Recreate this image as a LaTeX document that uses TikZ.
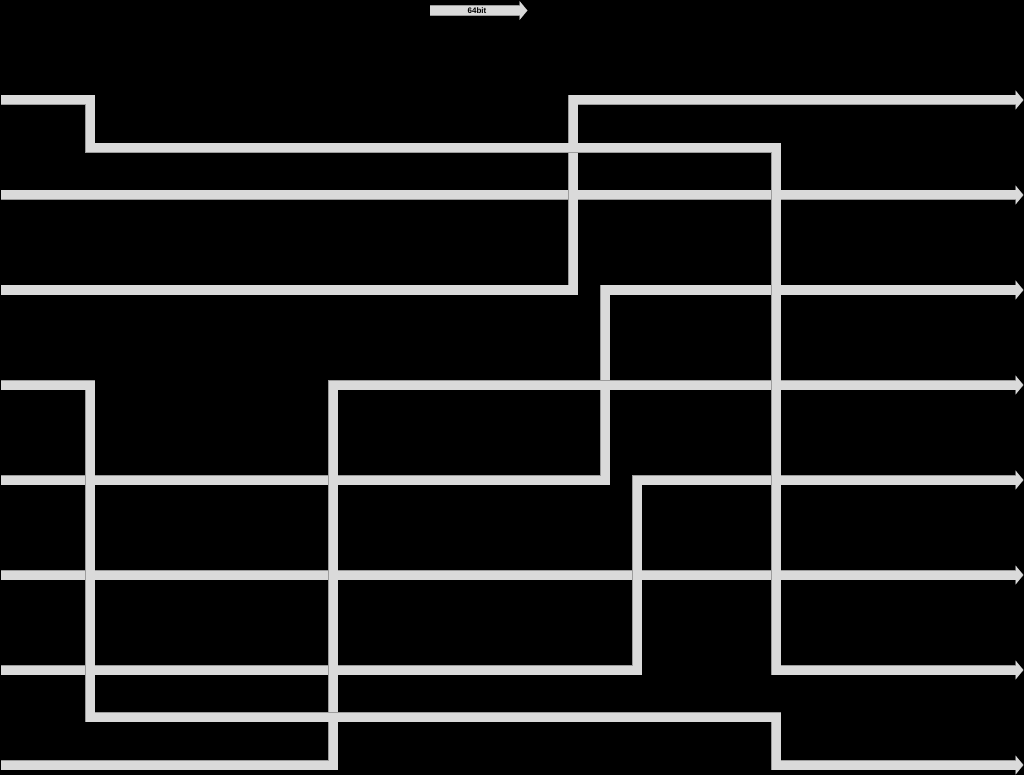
\documentclass[tikz,border=0pt]{standalone}
\usepackage{fontspec}
\setsansfont{Liberation Sans}
\definecolor{wirefill}{HTML}{DADADA}
\definecolor{wireedge}{HTML}{9C9C9C}
\tikzset{
  wireout/.style={draw=wireedge,line width=10.6pt,line join=miter,line cap=butt},
  wirein/.style={draw=wirefill,line width=9pt,line join=miter,line cap=butt},
  headout/.style={fill=wireedge},
  headin/.style={fill=wirefill},
}
% #1 = path (ending at the head base coordinate #2)
\newcommand\flexwire[2]{%
  \draw[wireout] #1;
  \fill[headout] (#2) ++(-0.6,-9.6) -- ++(8.2,9.6) -- ++(-8.2,9.6) -- cycle;
  \draw[wirein] #1;
  \fill[headin] (#2) ++(0,-8.8) -- ++(7,8.8) -- ++(-7,8.8) -- cycle;
}
\begin{document}
\begin{tikzpicture}[x=1pt,y=-1pt]
\fill[black] (0,0) rectangle (1024,775);
\useasboundingbox (0,0) rectangle (1024,775);
% start and end points
\coordinate (s1) at (1,100);
\coordinate (s2) at (1,195);
\coordinate (s3) at (1,290);
\coordinate (s4) at (1,385);
\coordinate (s5) at (1,480);
\coordinate (s6) at (1,575);
\coordinate (s7) at (1,670);
\coordinate (s8) at (1,765);
\coordinate (e1) at (1016,100);
\coordinate (e2) at (1016,195);
\coordinate (e3) at (1016,290);
\coordinate (e4) at (1016,385);
\coordinate (e5) at (1016,480);
\coordinate (e6) at (1016,575);
\coordinate (e7) at (1016,670);
\coordinate (e8) at (1016,765);
% legend arrow
\coordinate (ls) at (430,10.5);
\coordinate (le) at (520,10.5);
\flexwire{(ls) -- (le)}{le}
\node[font=\sffamily\bfseries\fontsize{8}{8}\selectfont,inner sep=0pt] (lbl) at (477,10.5) {64bit};
% wires
\flexwire{(s2) -- (e2)}{e2}
\flexwire{(s6) -- (e6)}{e6}
\flexwire{(s3) -- (573,290) -- (573,100) -- (e1)}{e1}
\flexwire{(s5) -- (605,480) -- (605,290) -- (e3)}{e3}
\flexwire{(s7) -- (637,670) -- (637,480) -- (e5)}{e5}
\flexwire{(s8) -- (333,765) -- (333,385) -- (e4)}{e4}
\flexwire{(s1) -- (90,100) -- (90,148) -- (776,148) -- (776,670) -- (e7)}{e7}
\flexwire{(s4) -- (90,385) -- (90,717) -- (776,717) -- (776,765) -- (e8)}{e8}
\end{tikzpicture}
\end{document}
